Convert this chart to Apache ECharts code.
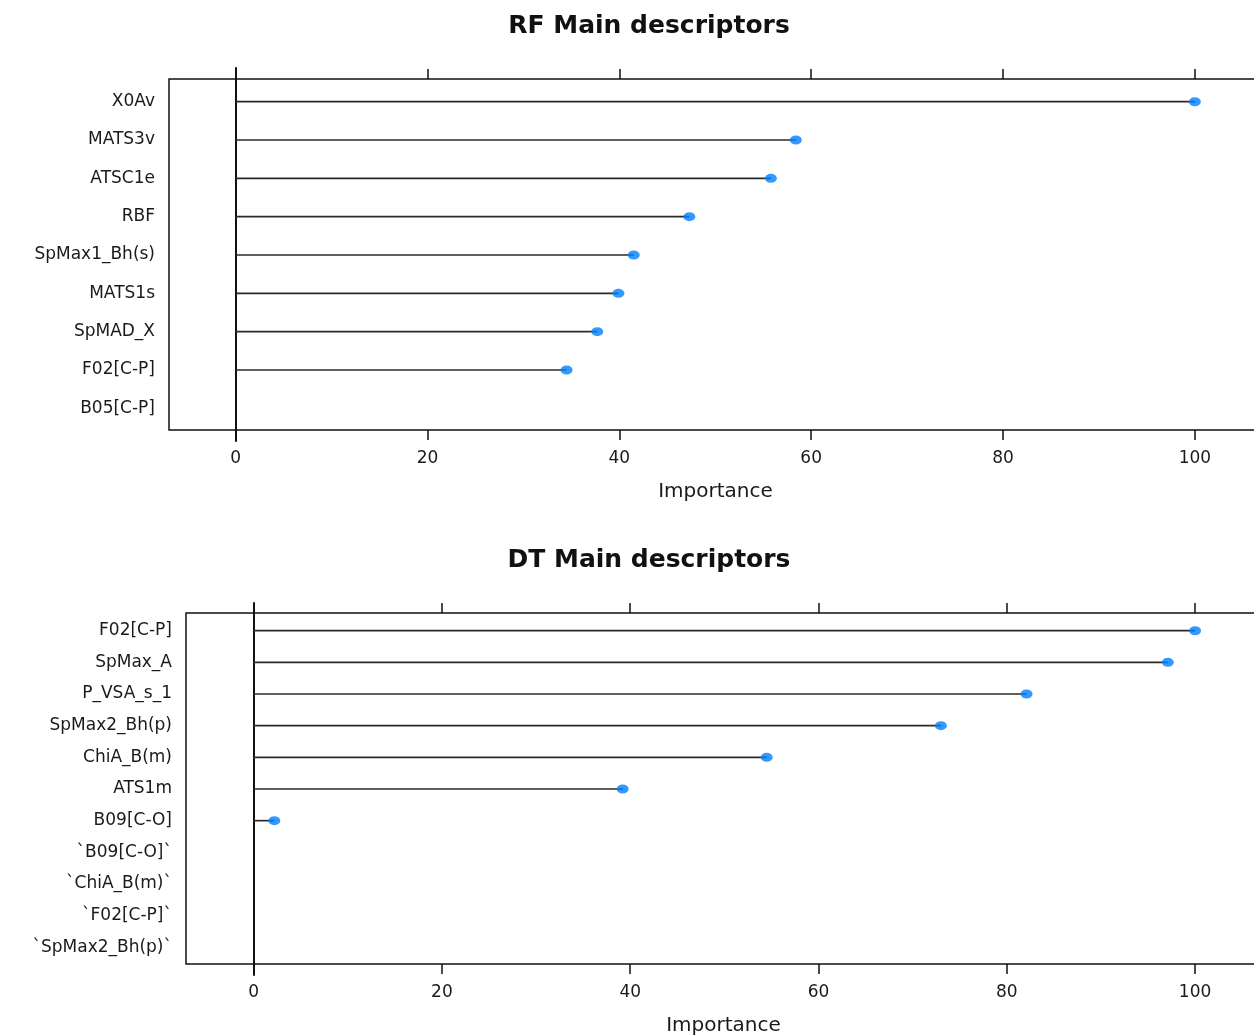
<!DOCTYPE html>
<html>
<head>
<meta charset="utf-8">
<script src="https://cdn.jsdelivr.net/npm/echarts@6/dist/echarts.min.js"></script>
<style>
html,body{margin:0;padding:0;background:#fff;}
#chart{width:1254px;height:1035px;}
</style>
</head>
<body>
<div id="chart"></div>
<script>
// ---- data ----
const rfTitle = 'RF Main descriptors';
const dtTitle = 'DT Main descriptors';
const axisName = 'Importance';
const rfCategories = ['X0Av', 'MATS3v', 'ATSC1e', 'RBF', 'SpMax1_Bh(s)', 'MATS1s', 'SpMAD_X', 'F02[C-P]', 'B05[C-P]'];
const rfValues = [100, 58.4, 55.8, 47.3, 41.5, 39.9, 37.7, 34.5, null];
const dtCategories = ['F02[C-P]', 'SpMax_A', 'P_VSA_s_1', 'SpMax2_Bh(p)', 'ChiA_B(m)', 'ATS1m', 'B09[C-O]', '`B09[C-O]`', '`ChiA_B(m)`', '`F02[C-P]`', '`SpMax2_Bh(p)`'];
const dtValues = [100, 97.1, 82.1, 73.0, 54.5, 39.2, 2.2, null, null, null, null];
const xTicks = [0, 20, 40, 60, 80, 100];

// ---- styling / layout ----
const FONT = 'DejaVu Sans';
const TXT = '#1a1a1a';
const DOT = '#0080ff';

function pts(values) {
  const out = [];
  values.forEach((v, i) => { if (v !== null) out.push([v, i]); });
  return out;
}
function idx(cats) { return cats.map((c, i) => i); }

function frameAxes(gi, min, max) {
  return [
    {
      gridIndex: gi, type: 'value', position: 'bottom', min: min, max: max,
      axisLine: { show: false },
      splitLine: { show: false },
      axisTick: { show: true, customValues: xTicks, length: 10, lineStyle: { color: '#111', width: 1.5 } },
      axisLabel: { show: true, customValues: xTicks, margin: 20, color: TXT, fontFamily: FONT, fontSize: 17 },
      name: axisName, nameLocation: 'middle', nameGap: 52,
      nameTextStyle: { color: TXT, fontFamily: FONT, fontSize: 20 }
    },
    {
      gridIndex: gi, type: 'value', position: 'top', min: min, max: max,
      axisLine: { show: false },
      splitLine: { show: false },
      axisTick: { show: true, customValues: xTicks, length: 10, lineStyle: { color: '#111', width: 1.5 } },
      axisLabel: { show: false }
    }
  ];
}

function dataYAxis(gi, cats, min, max, margin) {
  return {
    gridIndex: gi, type: 'value', inverse: true, min: min, max: max,
    axisLine: { show: true, onZero: true, lineStyle: { color: '#111', width: 2 } },
    axisTick: { show: false },
    splitLine: { show: false },
    axisLabel: {
      show: true, customValues: idx(cats), margin: margin,
      formatter: v => cats[Math.round(v)],
      padding: [4, 0, 0, 0],
      color: TXT, fontFamily: FONT, fontSize: 17
    }
  };
}

function stems(xi, yi, values) {
  return {
    type: 'custom', xAxisIndex: xi, yAxisIndex: yi, clip: false,
    data: pts(values),
    renderItem: function (params, api) {
      const s = api.coord([0, api.value(1)]);
      const e = api.coord([api.value(0), api.value(1)]);
      return { type: 'line', shape: { x1: s[0], y1: s[1], x2: e[0], y2: e[1] }, style: { stroke: '#2a2a2a', lineWidth: 1.7 } };
    },
    z: 3
  };
}
function dots(xi, yi, values) {
  return {
    type: 'scatter', xAxisIndex: xi, yAxisIndex: yi, clip: false,
    data: pts(values), symbol: 'circle', symbolSize: [12, 9],
    itemStyle: { color: DOT }, z: 4
  };
}

const topMin = -6.95, topMax = 107, botMin = -7.18, botMax = 107;
const gridBase = { outerBoundsMode: 'none', containLabel: false };

const option = {
  animation: false,
  backgroundColor: '#fff',
  title: [
    { text: rfTitle, left: 644, top: 9, textAlign: 'center', textStyle: { fontFamily: FONT, fontWeight: 'bold', fontSize: 25, color: '#111' } },
    { text: dtTitle, left: 644, top: 543, textAlign: 'center', textStyle: { fontFamily: FONT, fontWeight: 'bold', fontSize: 25, color: '#111' } }
  ],
  grid: [
    Object.assign({ left: 169, top: 79, width: 1093, height: 351, show: true, borderColor: '#111', borderWidth: 1.5, backgroundColor: 'transparent' }, gridBase),
    Object.assign({ left: 169, top: 68, width: 1093, height: 373 }, gridBase),
    Object.assign({ left: 186, top: 613, width: 1075, height: 351, show: true, borderColor: '#111', borderWidth: 1.5, backgroundColor: 'transparent' }, gridBase),
    Object.assign({ left: 186, top: 603, width: 1075, height: 372 }, gridBase)
  ],
  xAxis: [
    ...frameAxes(0, topMin, topMax),
    { gridIndex: 1, type: 'value', min: topMin, max: topMax, show: false },
    ...frameAxes(2, botMin, botMax),
    { gridIndex: 3, type: 'value', min: botMin, max: botMax, show: false }
  ],
  yAxis: [
    { gridIndex: 0, type: 'value', show: false, min: 0, max: 1 },
    dataYAxis(1, rfCategories, -0.879, 8.852, 14),
    { gridIndex: 2, type: 'value', show: false, min: 0, max: 1 },
    dataYAxis(3, dtCategories, -0.875, 10.875, 14)
  ],
  series: [
    stems(2, 1, rfValues),
    dots(2, 1, rfValues),
    stems(5, 3, dtValues),
    dots(5, 3, dtValues)
  ]
};

const chart = echarts.init(document.getElementById('chart'), null, { renderer: 'canvas' });
chart.setOption(option);
</script>
</body>
</html>
